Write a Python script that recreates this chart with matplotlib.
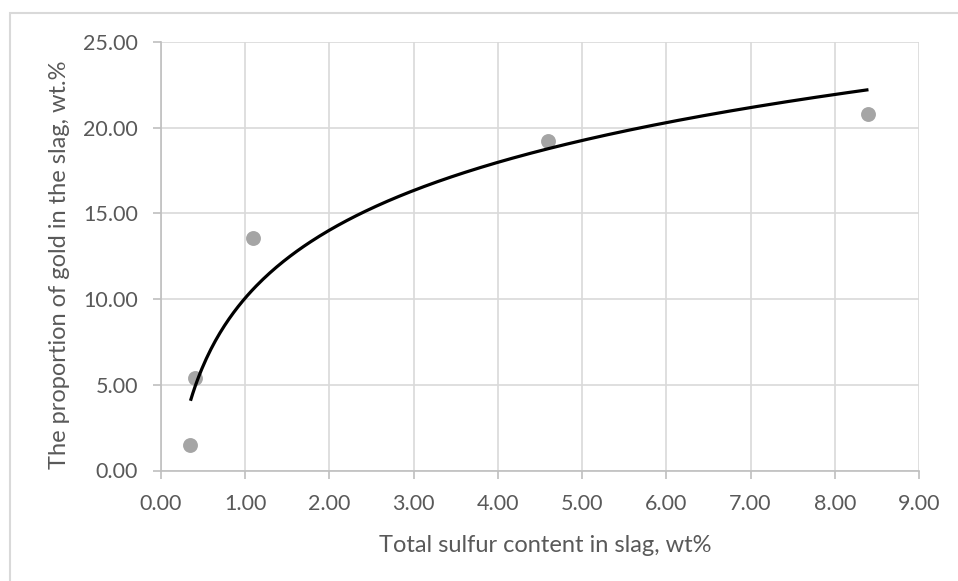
import matplotlib.pyplot as plt
import numpy as np
from matplotlib.patches import Rectangle

# measured data
sulfur = [0.35, 0.40, 1.09, 4.60, 8.40]
gold = [1.50, 5.42, 13.55, 19.20, 20.78]

x_ticks = [0, 1, 2, 3, 4, 5, 6, 7, 8, 9]
y_ticks = [0, 5, 10, 15, 20, 25]

plt.rcParams['font.family'] = ['Lato', 'DejaVu Sans']
text_gray = '#595959'
grid_gray = '#D9D9D9'
axis_gray = '#BFBFBF'

W, H = 958, 581
dpi = 100
fig = plt.figure(dpi=dpi, figsize=(W / dpi, H / dpi))
ax = fig.add_axes([161 / W, 1 - 470.5 / H, 758 / W, 428.5 / H])

# chart area frame (Excel style)
fig.patches.append(Rectangle((10 / W, -0.1), 1.2, 1 - 13 / H + 0.1,
                             transform=fig.transFigure, fill=False,
                             edgecolor=grid_gray, linewidth=1.5))

ax.set_xlim(0, 9)
ax.set_ylim(0, 25)
ax.set_xticks(x_ticks)
ax.set_yticks(y_ticks)
ax.set_xticklabels(['%.2f' % v for v in x_ticks])
ax.set_yticklabels(['%.2f' % v for v in y_ticks])

ax.grid(True, color=grid_gray, linewidth=1.2, zorder=0)
ax.set_axisbelow(True)
for side in ['top', 'right']:
    ax.spines[side].set_visible(False)
for side in ['left', 'bottom']:
    ax.spines[side].set_color(axis_gray)
    ax.spines[side].set_linewidth(1.2)
ax.tick_params(colors=axis_gray, labelcolor=text_gray, labelsize=15.5,
               length=6, width=1.2, direction='out')
ax.tick_params(axis='x', pad=11)
ax.tick_params(axis='y', pad=10.5)

ax.scatter(sulfur, gold, s=115, color='#A5A5A5', zorder=3, linewidths=0)

# logarithmic trend line fitted to the points
a, b = np.polyfit(np.log(sulfur), gold, 1)
xs = np.linspace(min(sulfur), max(sulfur), 300)
ax.plot(xs, a * np.log(xs) + b, color='black', linewidth=2.3, zorder=4,
        solid_capstyle='butt')

fig.text(545 / W, 1 - 545 / H, 'Total sulfur content in slag, wt%',
         fontsize=17, color=text_gray, ha='center', va='center')
fig.text(60 / W, 1 - 265 / H, 'The proportion of gold in the slag, wt.%',
         fontsize=17, color=text_gray, ha='center', va='center',
         rotation=90)

fig.savefig('out.png', dpi=dpi)
